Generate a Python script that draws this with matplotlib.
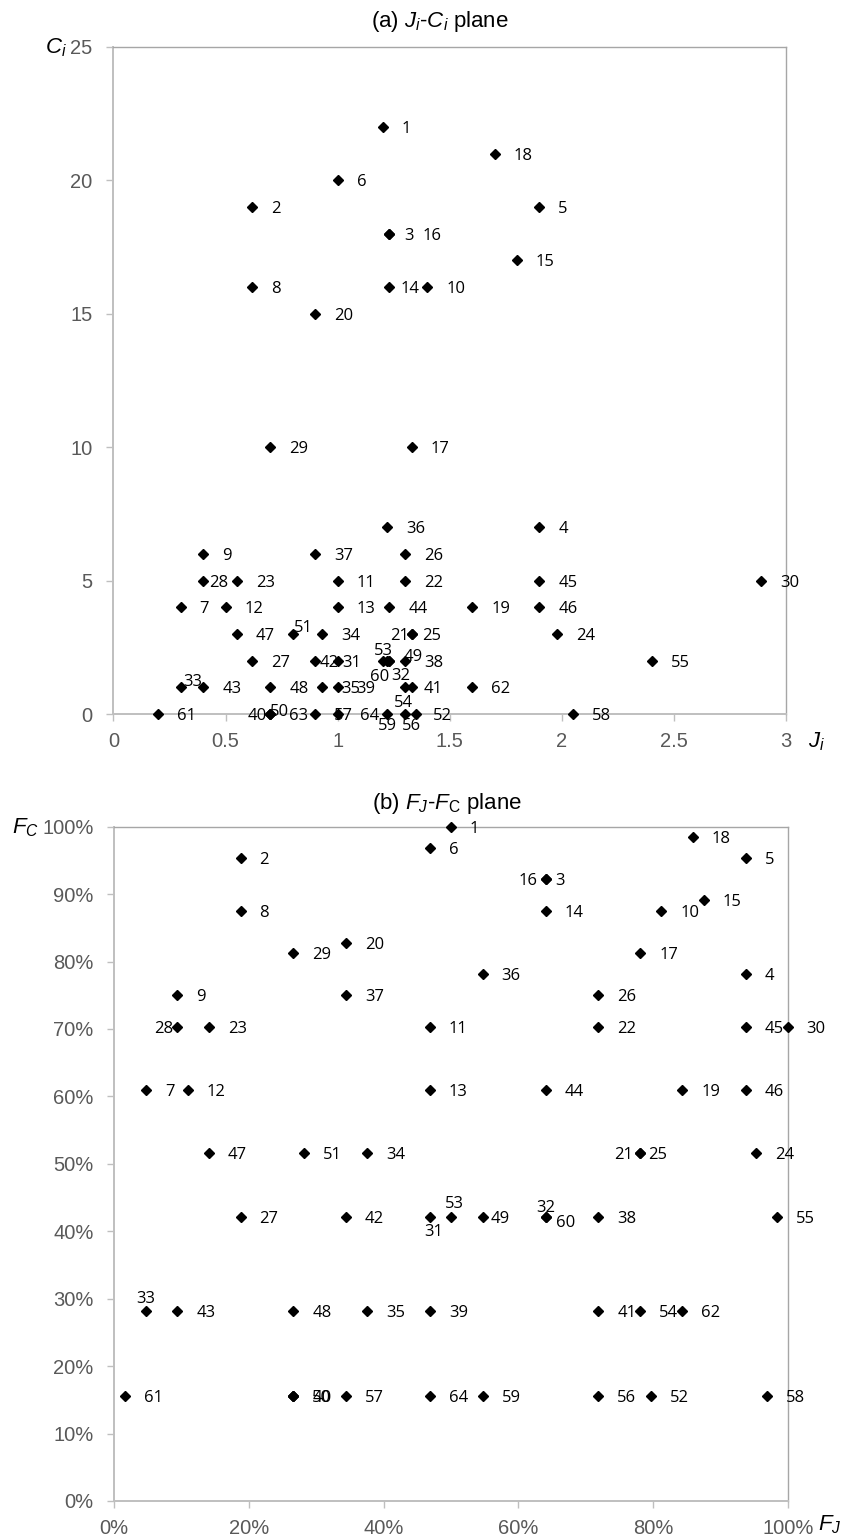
import numpy as np
import matplotlib.pyplot as plt
from matplotlib.ticker import MultipleLocator, FuncFormatter, PercentFormatter

plt.rcParams['font.family'] = 'Liberation Sans'
plt.rcParams['mathtext.fontset'] = 'custom'
plt.rcParams['mathtext.rm'] = 'Liberation Sans'
plt.rcParams['mathtext.it'] = 'Liberation Sans:italic'

# point ids and their (J_i, C_i) values
ids = list(range(1, 65))
J = [1.2, 0.62, 1.23, 1.9, 1.9, 1.0, 0.3, 0.62, 0.4, 1.4,
     1.0, 0.5, 1.0, 1.23, 1.8, 1.23, 1.33, 1.7, 1.6, 0.9,
     1.33, 1.3, 0.55, 1.98, 1.33, 1.3, 0.62, 0.4, 0.7, 2.89,
     1.0, 1.23, 0.3, 0.93, 0.93, 1.22, 0.9, 1.3, 1.0, 0.7,
     1.3, 0.9, 0.4, 1.23, 1.9, 1.9, 0.55, 0.7, 1.22, 0.7,
     0.8, 1.35, 1.2, 1.33, 2.4, 1.3, 0.9, 2.05, 1.22, 1.23,
     0.2, 1.6, 0.7, 1.0]
C = [22, 19, 18, 7, 19, 20, 4, 16, 6, 16,
     5, 4, 4, 16, 17, 18, 10, 21, 4, 15,
     3, 5, 5, 3, 3, 6, 2, 5, 10, 5,
     2, 2, 1, 3, 1, 7, 6, 2, 1, 0,
     1, 2, 1, 4, 5, 4, 3, 1, 2, 0,
     3, 0, 2, 1, 2, 0, 0, 0, 0, 2,
     0, 1, 0, 0]

# cumulative shares F_J, F_C (share of points with value <= own value)
J_arr = np.array(J)
C_arr = np.array(C)
FJ = np.array([(J_arr <= v).sum() for v in J_arr]) / len(J_arr)
FC = np.array([(C_arr <= v).sum() for v in C_arr]) / len(C_arr)

# label placement tweaks in pixels: (right, down, ha); default is right of point
top_pos = {3: (15, 0, 'left'), 16: (33, 0, 'left'), 14: (11, 0, 'left'),
           28: (6, 0, 'left'), 51: (11, -8, 'center'), 21: (-3, 0, 'right'),
           25: (10, 0, 'left'), 42: (4, 0, 'left'), 31: (5, 0, 'left'),
           53: (1, -12, 'center'), 49: (17, -6, 'left'), 60: (-10, 14, 'center'),
           32: (12, 13, 'center'), 33: (12, -7, 'center'), 54: (-8, 14, 'center'),
           40: (-4, 0, 'right'), 50: (9, -4, 'center'), 64: (22, 0, 'left'),
           59: (0, 10, 'center'), 56: (7, 10, 'center'), 52: (17, 0, 'left')}
bot_pos = {28: (-4, 0, 'right'), 16: (-8, 0, 'right'), 3: (10, 0, 'left'),
           21: (-7, 0, 'right'), 25: (8, 0, 'left'), 31: (4, 13, 'center'),
           53: (3, -15, 'center'), 49: (8, 0, 'left'), 32: (0, -11, 'center'),
           60: (10, 4, 'left'), 33: (0, -14, 'center')}

W, H = 848, 1540
fig = plt.figure(figsize=(W / 100, H / 100), dpi=100)
ax1 = fig.add_axes([113.5 / W, 1 - 714 / H, (786 - 113.5) / W, (714 - 47) / H])
ax2 = fig.add_axes([114.3 / W, 1 - 1501 / H, (787.7 - 114.3) / W, (1501 - 826.7) / H])


def style_axes(ax):
    for s in ['left', 'bottom']:
        ax.spines[s].set_color('#BFBFBF')
        ax.spines[s].set_linewidth(1.4)
    for s in ['top', 'right']:
        ax.spines[s].set_color('#A6A6A6')
        ax.spines[s].set_linewidth(1.0)
    ax.tick_params(direction='out', length=5, width=1, color='#BFBFBF',
                   labelcolor='#595959', labelsize=14.5)
    ax.tick_params(axis='y', pad=10)
    ax.tick_params(axis='x', pad=8)


def draw_points(ax, x, y, pos, skip=()):
    ax.plot(x, y, 'D', color='black', ms=5, clip_on=False, zorder=3)
    for i, xi, yi in zip(ids, x, y):
        if i in skip:
            continue
        dx, dy, ha = pos.get(i, (19, 0, 'left'))
        ax.annotate(str(i), (xi, yi), xytext=(dx * 0.72, -dy * 0.72),
                    textcoords='offset points', ha=ha, va='center_baseline',
                    fontsize=12, family='Open Sans', color='black',
                    annotation_clip=False, zorder=4)


# (a) J-C plane
draw_points(ax1, J, C, top_pos)
ax1.set_xlim(0, 3)
ax1.set_ylim(0, 25)
ax1.xaxis.set_major_locator(MultipleLocator(0.5))
ax1.yaxis.set_major_locator(MultipleLocator(5))
ax1.xaxis.set_major_formatter(FuncFormatter(lambda v, p: '%g' % v))
style_axes(ax1)

# (b) F_J-F_C plane
draw_points(ax2, FJ, FC, bot_pos, skip=(63,))
ax2.set_xlim(0, 1)
ax2.set_ylim(0, 1)
ax2.xaxis.set_major_locator(MultipleLocator(0.2))
ax2.yaxis.set_major_locator(MultipleLocator(0.1))
ax2.xaxis.set_major_formatter(PercentFormatter(1.0, decimals=0))
ax2.yaxis.set_major_formatter(PercentFormatter(1.0, decimals=0))
style_axes(ax2)

fig.text(440 / W, 1 - 22 / H, '(a) $J_i$-$C_i$ plane', ha='center', va='center', fontsize=16)
fig.text(447 / W, 1 - 803 / H, r'(b) $F_J$-$F_\mathrm{C}$ plane', ha='center', va='center', fontsize=16)

fig.text(45 / W, 1 - 53.5 / H, '$C_i$', ha='left', va='baseline', fontsize=16)
fig.text(808 / W, 1 - 747 / H, '$J_i$', ha='left', va='baseline', fontsize=16)
fig.text(12 / W, 1 - 833 / H, '$F_C$', ha='left', va='baseline', fontsize=16)
fig.text(818 / W, 1 - 1530 / H, '$F_J$', ha='left', va='baseline', fontsize=16)

fig.savefig('out.png', dpi=100)
